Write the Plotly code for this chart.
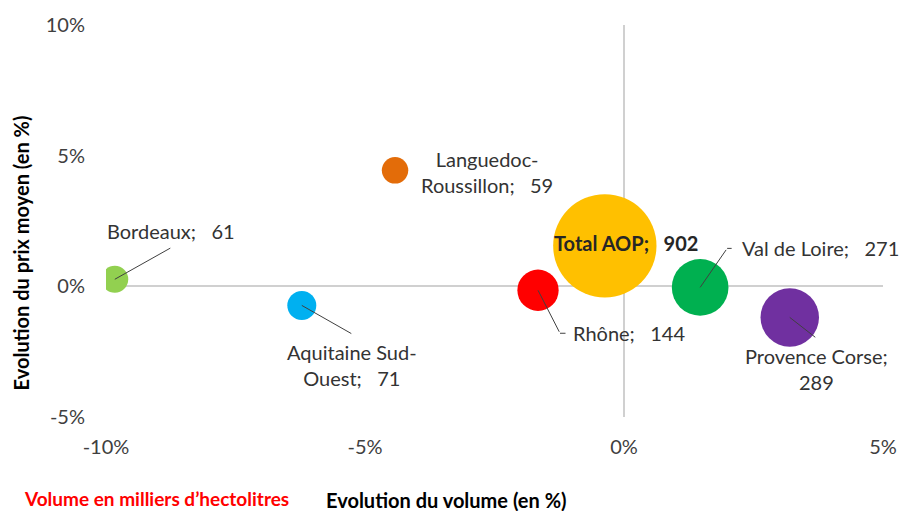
import plotly.graph_objects as go

# ---- data ----
regions = ["Bordeaux", "Aquitaine Sud-Ouest", "Languedoc-Roussillon", "Rhône",
           "Total AOP", "Val de Loire", "Provence Corse"]
volume_change = [-9.83, -6.22, -4.42, -1.66, -0.37, 1.47, 3.2]      # % evolution du volume
price_change = [0.27, -0.73, 4.44, -0.15, 1.55, -0.04, -1.19]       # % evolution du prix moyen
volumes = [61, 71, 59, 144, 902, 271, 289]                          # milliers d'hectolitres
colors = ["#92D050", "#00B0F0", "#E36C09", "#FF0000", "#FFC000", "#00B050", "#7030A0"]

x_tickvals = [-10, -5, 0, 5]
x_ticktext = ["-10%", "-5%", "0%", "5%"]
y_tickvals = [-5, 0, 5, 10]
y_ticktext = ["-5%", "0%", "5%", "10%"]

# ---- label layout (pixel offsets) ----
label_style = {
    "Bordeaux": dict(wrap=None, xshift=56, yshift=48, xanchor="center", lead=(57, -32), elbow=None),
    "Aquitaine Sud-Ouest": dict(wrap="hyphen", xshift=50, yshift=-60, xanchor="center", lead=(51, 29), elbow=None),
    "Languedoc-Roussillon": dict(wrap="hyphen", xshift=92, yshift=-2, xanchor="center", lead=None, elbow=None),
    "Rhône": dict(wrap=None, xshift=33, yshift=-43, xanchor="left", lead=(22, 43), elbow=7),
    "Total AOP": dict(wrap=None, xshift=21, yshift=3, xanchor="center", lead=None, elbow=None, bold=True),
    "Val de Loire": dict(wrap=None, xshift=40, yshift=39, xanchor="left", lead=(27, -39), elbow=6),
    "Provence Corse": dict(wrap="value", xshift=27, yshift=-52, xanchor="center", lead=(27, 21), elbow=None),
}

FONT = "Lato, 'Open Sans', sans-serif"
SP = "\u00a0\u00a0\u00a0"

fig = go.Figure()
fig.add_trace(go.Scatter(
    x=volume_change, y=price_change, mode="markers",
    marker=dict(size=volumes, sizemode="area", sizeref=0.169,
                color=colors, line=dict(width=0), opacity=1),
    text=regions, hoverinfo="text", showlegend=False, cliponaxis=True,
))

annotations = []
for name, xv, yv, vol in zip(regions, volume_change, price_change, volumes):
    st = label_style[name]
    if st["wrap"] == "hyphen":
        head = name.replace("-", "-<br>", 1)
        txt = f"{head};{SP}{vol}"
    elif st["wrap"] == "value":
        txt = f"{name};<br>{vol}"
    else:
        txt = f"{name};{SP}{vol}"
    if st.get("bold"):
        txt = f"<b>{txt}</b>"
    annotations.append(dict(
        x=xv, y=yv, xref="x", yref="y", text=txt, showarrow=False,
        xshift=st["xshift"], yshift=st["yshift"], xanchor=st["xanchor"], yanchor="middle",
        align="center", font=dict(family=FONT, size=20, color="#262626" if st.get("bold") else "#333333"),
    ))
    if st["lead"]:
        ax, ay = st["lead"]
        annotations.append(dict(
            x=xv, y=yv, xref="x", yref="y", text="", showarrow=True,
            arrowhead=0, arrowwidth=1, arrowcolor="#404040", ax=ax, ay=ay,
            standoff=0, startstandoff=0,
        ))
        if st["elbow"]:
            annotations.append(dict(
                x=xv, y=yv, xref="x", yref="y", text="", showarrow=True,
                xshift=ax, yshift=-ay,
                arrowhead=0, arrowwidth=1, arrowcolor="#404040", ax=st["elbow"], ay=0,
                standoff=0, startstandoff=0,
            ))

# axis titles and note
annotations.append(dict(text="<b>Evolution du volume (en %)</b>", xref="paper", yref="paper",
                        x=0.4376, y=-0.211, showarrow=False, xanchor="center", yanchor="middle",
                        font=dict(family=FONT, size=20, color="#000000")))
annotations.append(dict(text="<b>Evolution du prix moyen (en %)</b>", xref="paper", yref="paper",
                        x=-0.109, y=0.418, showarrow=False, xanchor="center", yanchor="middle",
                        textangle=-90, font=dict(family=FONT, size=20, color="#000000")))
annotations.append(dict(text="<b>Volume en milliers d\u2019hectolitres</b>", xref="paper", yref="paper",
                        x=0.0644, y=-0.209, showarrow=False, xanchor="center", yanchor="middle",
                        font=dict(family=FONT, size=19, color="#FF0000")))

LINE = "#d0d0d0"
fig.update_layout(
    width=902, height=511,
    margin=dict(l=106, r=19, t=25, b=94),
    paper_bgcolor="white", plot_bgcolor="white",
    font=dict(family=FONT, size=20, color="#404040"),
    annotations=annotations,
    xaxis=dict(range=[-10, 5], tickvals=x_tickvals, ticktext=x_ticktext,
               showgrid=False, showline=False, ticks="", automargin=False,
               zeroline=True, zerolinecolor=LINE, zerolinewidth=1.5,
               ticklabelstandoff=16, tickfont=dict(size=20, color="#404040")),
    yaxis=dict(range=[-5, 10], tickvals=y_tickvals, ticktext=y_ticktext,
               showgrid=False, showline=False, ticks="", automargin=False,
               zeroline=True, zerolinecolor=LINE, zerolinewidth=1.5,
               ticklabelstandoff=20, tickfont=dict(size=20, color="#404040")),
    xaxis2=dict(range=[-10, 5], overlaying="x", anchor="free", position=1/3,
                tickvals=x_tickvals, showticklabels=False, ticks="outside",
                ticklen=6, tickwidth=1.5, tickcolor=LINE, showline=False,
                showgrid=False, zeroline=False, layer="below traces"),
    yaxis2=dict(range=[-5, 10], overlaying="y", anchor="free", position=2/3,
                tickvals=y_tickvals, showticklabels=False, ticks="outside",
                ticklen=6, tickwidth=1.5, tickcolor=LINE, showline=False,
                showgrid=False, zeroline=False, layer="below traces", side="left"),
)

# remove the default page margin so the 902x511 figure fills the window exactly
fig.write_html(
    "out.html",
    config={"displayModeBar": False},
    post_script="document.body.style.margin='0';document.documentElement.style.overflow='hidden';",
)
